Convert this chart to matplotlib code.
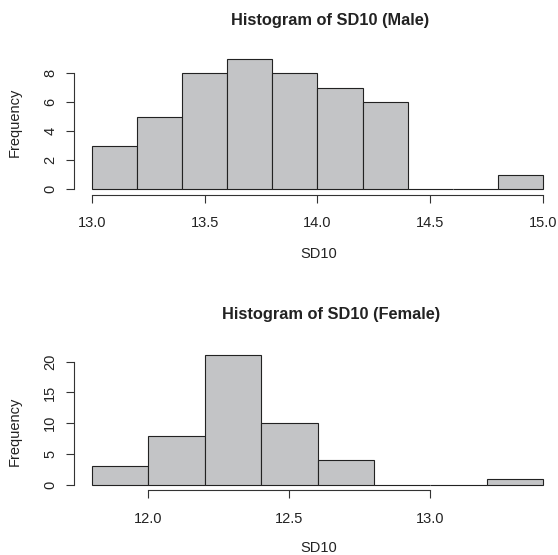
import numpy as np
import matplotlib.pyplot as plt

plt.rcParams['font.family'] = ['Liberation Sans', 'DejaVu Sans']

# histogram bins (left edges, width 0.2) and counts for each group
male_edges = [13.0, 13.2, 13.4, 13.6, 13.8, 14.0, 14.2, 14.4, 14.6, 14.8]
male_counts = [3, 5, 8, 9, 8, 7, 6, 0, 0, 1]
male_xticks = [13.0, 13.5, 14.0, 14.5, 15.0]
male_yticks = [0, 2, 4, 6, 8]

female_edges = [11.8, 12.0, 12.2, 12.4, 12.6, 12.8, 13.0, 13.2]
female_counts = [3, 8, 21, 10, 4, 0, 0, 1]
female_xticks = [12.0, 12.5, 13.0]
female_yticks = [0, 5, 10, 15, 20]

bin_width = 0.2
W, H = 558, 555

fig = plt.figure(figsize=(W / 100, H / 100), dpi=100)


def r_hist(rect, edges, counts, xticks, yticks, title, title_xy, ylab_y, xlab_off):
    left, top, right, bottom = rect
    ax = fig.add_axes([left / W, 1 - bottom / H, (right - left) / W, (bottom - top) / H])
    ax.bar(edges, counts, width=bin_width, align='edge', color='#c3c4c6',
           edgecolor='#222222', linewidth=0.8)
    x0, x1 = edges[0], edges[-1] + bin_width
    pad_x = 0.04 * (x1 - x0)
    ymax = max(counts)
    ax.set_xlim(x0 - pad_x, x1 + pad_x)
    ax.set_ylim(-0.04 * ymax, 1.04 * ymax)

    for s in ['top', 'right']:
        ax.spines[s].set_visible(False)
    for s in ['left', 'bottom']:
        ax.spines[s].set_color('#333333')
        ax.spines[s].set_linewidth(0.8)
    ax.spines['bottom'].set_bounds(xticks[0], xticks[-1])
    ax.spines['left'].set_bounds(yticks[0], yticks[-1])

    ax.set_xticks(xticks)
    ax.set_xticklabels([f'{t:.1f}' for t in xticks])
    ax.set_yticks(yticks)
    ax.set_yticklabels([str(t) for t in yticks], rotation=90, va='center')
    ax.tick_params(length=6, width=0.8, color='#333333', labelsize=10.5,
                   labelcolor='#222222')
    ax.tick_params(axis='x', pad=9.5)
    ax.tick_params(axis='y', pad=6)

    h = bottom - top
    w = right - left
    ax.set_xlabel('SD10', fontsize=10.5, color='#222222', va='center')
    ax.set_ylabel('Frequency', fontsize=10.5, color='#222222')
    ax.xaxis.set_label_coords((319 - left) / w, -xlab_off / h)
    ax.yaxis.set_label_coords((22 - left) / w, (bottom - ylab_y) / h)
    ax.patch.set_visible(False)

    fig.text(title_xy[0] / W, 1 - title_xy[1] / H, title, ha='center', va='center',
             fontsize=11.8, fontweight='bold', color='#222222')
    return ax


r_hist((74, 53.6, 561, 194.5), male_edges, male_counts, male_xticks, male_yticks,
       'Histogram of SD10 (Male)', (330, 20), 122.5, 59.5)
r_hist((74, 350.2, 561, 490.2), female_edges, female_counts, female_xticks, female_yticks,
       'Histogram of SD10 (Female)', (331, 314), 431, 57.5)

fig.savefig('out.png', dpi=100)
